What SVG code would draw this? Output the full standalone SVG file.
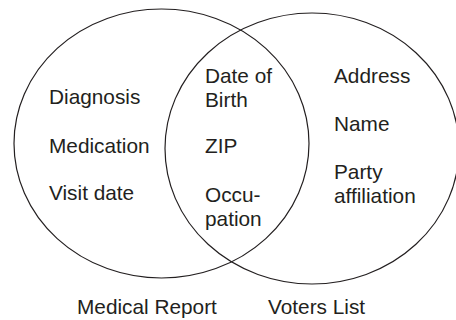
<svg xmlns="http://www.w3.org/2000/svg" width="456" height="320" viewBox="0 0 456 320">
<style>
.set{fill:none;stroke:#231f20;stroke-width:1.2}
text{font-family:"Liberation Sans",Arial,sans-serif;font-size:20.8px;fill:#231f20}
</style>
<rect width="456" height="320" fill="#fff"/>
<g id="medical-report">
<ellipse class="set" cx="161.5" cy="143.5" rx="147.5" ry="134.5"/>
<text x="49" y="104">Diagnosis</text>
<text x="49" y="153">Medication</text>
<text x="49" y="200">Visit date</text>
<text x="77" y="314">Medical Report</text>
</g>
<g id="voters-list">
<ellipse class="set" cx="312" cy="148.5" rx="147" ry="135.5"/>
<text x="334" y="83">Address</text>
<text x="334" y="131">Name</text>
<text x="334" y="179">Party</text>
<text x="334" y="203">affiliation</text>
<text x="268" y="314">Voters List</text>
</g>
<g id="intersection">
<text x="205" y="83">Date of</text>
<text x="205" y="107">Birth</text>
<text x="205" y="153">ZIP</text>
<text x="205" y="202">Occu-</text>
<text x="205" y="226">pation</text>
</g>
<g id="connectors"></g>
</svg>
